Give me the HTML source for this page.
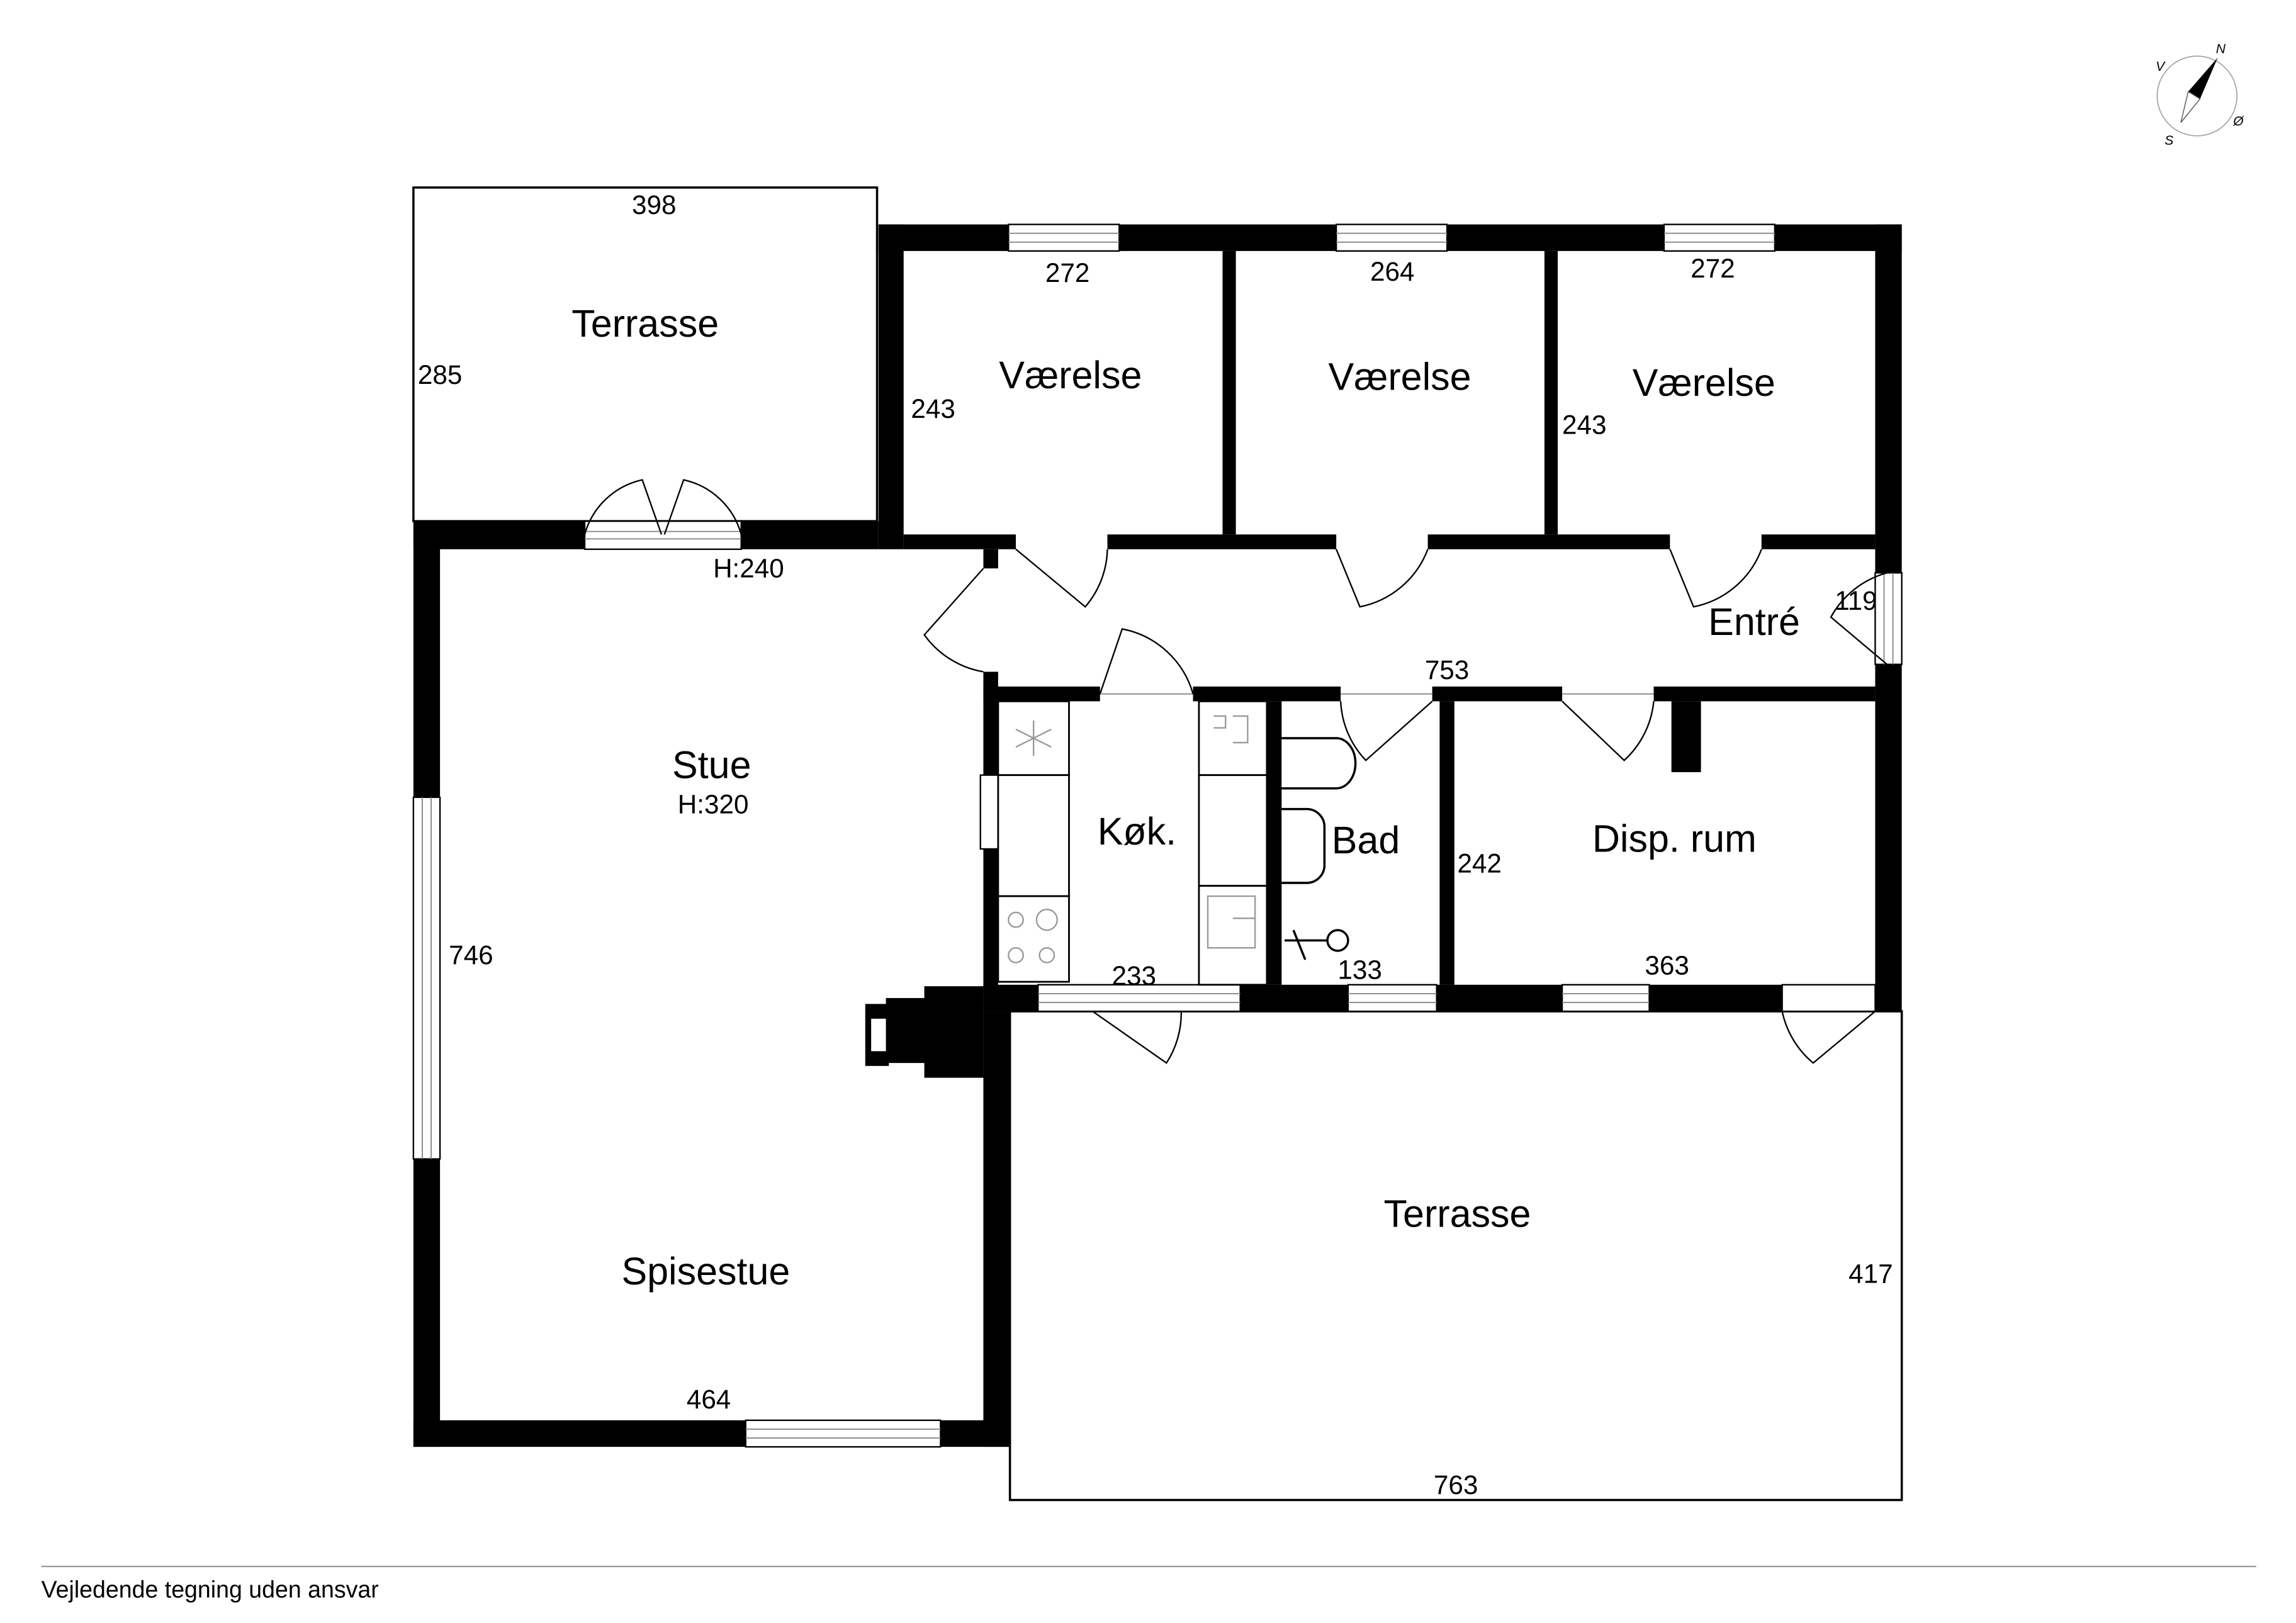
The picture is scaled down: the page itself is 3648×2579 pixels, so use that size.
<!DOCTYPE html>
<html><head><meta charset="utf-8"><style>
html,body{margin:0;padding:0;background:#fff;}
svg{display:block;}
text{font-family:"Liberation Sans",sans-serif;fill:#000;}
</style></head><body>
<svg width="3648" height="2579" viewBox="0 0 1555 1099.3" xmlns="http://www.w3.org/2000/svg">
<rect x="0" y="0" width="1555" height="1100" fill="#fff"/>
<!-- terraces -->
<rect x="280" y="127" width="314" height="226" fill="none" stroke="#000" stroke-width="1.5"/>
<rect x="684" y="685" width="604" height="331" fill="none" stroke="#000" stroke-width="1.5"/>
<g fill="#000">
<!-- top wall -->
<rect x="595" y="152" width="88" height="18"/><rect x="758" y="152" width="147" height="18"/>
<rect x="980" y="152" width="147" height="18"/><rect x="1202" y="152" width="86" height="18"/>
<rect x="595" y="152" width="17" height="220"/>
<rect x="1270" y="152" width="18" height="236"/><rect x="1270" y="450" width="18" height="235"/>
<rect x="828" y="170" width="9" height="192"/><rect x="1046" y="170" width="9" height="192"/>
<rect x="612" y="362" width="76" height="10"/><rect x="750" y="362" width="155" height="10"/>
<rect x="967" y="362" width="164" height="10"/><rect x="1193" y="362" width="77" height="10"/>
<!-- stue -->
<rect x="280" y="353" width="116" height="19"/><rect x="502" y="353" width="93" height="19"/>
<rect x="280" y="353" width="18" height="187"/><rect x="280" y="785" width="18" height="195"/>
<rect x="280" y="962" width="225" height="18"/><rect x="637" y="962" width="47" height="18"/>
<rect x="666" y="372" width="10" height="13"/><rect x="666" y="455" width="10" height="70"/>
<rect x="666" y="575" width="10" height="110"/>
<rect x="666" y="685" width="18" height="295"/>
<!-- hall bottom -->
<rect x="666" y="465" width="79" height="10"/><rect x="808" y="465" width="100" height="10"/>
<rect x="970" y="465" width="88" height="10"/><rect x="1120" y="465" width="150" height="10"/>
<rect x="1132" y="475" width="20" height="48"/>
<rect x="858" y="475" width="10" height="192"/><rect x="975" y="475" width="10" height="192"/>
<!-- bottom wall -->
<rect x="666" y="667" width="37" height="18"/><rect x="840" y="667" width="73" height="18"/>
<rect x="973" y="667" width="85" height="18"/><rect x="1117" y="667" width="90" height="18"/>
<!-- chimney -->
<rect x="626" y="668" width="40" height="62"/><rect x="600" y="676" width="30" height="44"/>
<rect x="586" y="680" width="16" height="42"/>
</g>
<rect x="590" y="690" width="10" height="22" fill="#fff"/>
<!-- windows -->
<g fill="#fff" stroke="#000" stroke-width="1">
<rect x="683" y="152" width="75" height="18"/><rect x="905" y="152" width="75" height="18"/><rect x="1127" y="152" width="75" height="18"/>
<rect x="396" y="353" width="106" height="19"/>
<rect x="280" y="540" width="18" height="245"/>
<rect x="505" y="962" width="132" height="18"/>
<rect x="703" y="667" width="137" height="18"/><rect x="913" y="667" width="60" height="18"/>
<rect x="1058" y="667" width="59" height="18"/><rect x="1207" y="667" width="63" height="18"/>
<rect x="1270" y="388" width="18" height="62"/>
<rect x="664" y="525" width="12" height="50"/>
</g>
<g stroke="#888" stroke-width="0.8">
<line x1="683" y1="158" x2="758" y2="158"/><line x1="683" y1="164" x2="758" y2="164"/>
<line x1="905" y1="158" x2="980" y2="158"/><line x1="905" y1="164" x2="980" y2="164"/>
<line x1="1127" y1="158" x2="1202" y2="158"/><line x1="1127" y1="164" x2="1202" y2="164"/>
<line x1="396" y1="360" x2="502" y2="360"/><line x1="396" y1="365" x2="502" y2="365"/>
<line x1="286" y1="540" x2="286" y2="785"/><line x1="292" y1="540" x2="292" y2="785"/>
<line x1="505" y1="968" x2="637" y2="968"/><line x1="505" y1="974" x2="637" y2="974"/>
<line x1="703" y1="673" x2="840" y2="673"/><line x1="703" y1="679" x2="840" y2="679"/>
<line x1="913" y1="673" x2="973" y2="673"/><line x1="913" y1="679" x2="973" y2="679"/>
<line x1="1058" y1="673" x2="1117" y2="673"/><line x1="1058" y1="679" x2="1117" y2="679"/>
<line x1="1276" y1="388" x2="1276" y2="450"/><line x1="1282" y1="388" x2="1282" y2="450"/>
<line x1="745" y1="470" x2="808" y2="470"/><line x1="908" y1="470" x2="970" y2="470"/><line x1="1058" y1="470" x2="1120" y2="470"/>
</g>
<!-- doors -->
<g fill="none" stroke="#000" stroke-width="1">
<path d="M688,372 L735,411 A62,62 0 0 0 750,372"/>
<path d="M905,372 L921,411 A62,62 0 0 0 967,372"/>
<path d="M1131,372 L1147,411 A62,62 0 0 0 1193,372"/>
<path d="M396,362 A52,52 0 0 1 435,325 L448,362"/>
<path d="M502,362 A52,52 0 0 0 463,325 L450,362"/>
<path d="M666,385 L626,430 A62,62 0 0 0 666,455"/>
<path d="M745,470 L760,426 A62,62 0 0 1 808,470"/>
<path d="M908,475 A62,62 0 0 0 925,515 L970,475"/>
<path d="M1058,475 L1100,515 A62,62 0 0 0 1120,475"/>
<path d="M740,685 L790,720 A62,62 0 0 0 800,685"/>
<path d="M1207,685 A62,62 0 0 0 1228,720 L1270,685"/>
<path d="M1278,388 A62,62 0 0 0 1240,418 L1278,450"/>
</g>
<!-- kitchen fixtures -->
<g fill="#fff" stroke="#000" stroke-width="1.2">
<rect x="676" y="475" width="48" height="50"/><rect x="676" y="525" width="48" height="82"/><rect x="676" y="607" width="48" height="58"/>
<rect x="812" y="475" width="46" height="50"/><rect x="812" y="525" width="46" height="75"/><rect x="812" y="600" width="46" height="67"/>
</g>
<g fill="none" stroke="#999" stroke-width="1">
<path d="M700,488 L700,512 M688,494 L712,506 M688,506 L712,494"/>
<circle cx="688" cy="623" r="5"/><circle cx="709" cy="623" r="7"/><circle cx="688" cy="647" r="5"/><circle cx="709" cy="647" r="5"/>
<rect x="818" y="607" width="32" height="35"/><line x1="835" y1="622" x2="850" y2="622"/>
<path d="M822,485 h8 v8 h-8 M835,485 h10 v18 h-10"/>
</g>
<!-- bath -->
<g fill="#fff" stroke="#000" stroke-width="1.5">
<path d="M868,500 L905,500 A13,17 0 0 1 905,534 L868,534"/>
<path d="M868,548 L885,548 A12,12 0 0 1 897,560 L897,586 A12,12 0 0 1 885,598 L868,598"/>
<circle cx="906" cy="637" r="7"/>
</g>
<path d="M870,637 H899 M876,630 L884,650" stroke="#000" stroke-width="1.5"/>
<!-- labels -->
<g font-size="26" text-anchor="middle">
<text x="437" y="228">Terrasse</text><text x="725" y="263">Værelse</text><text x="948" y="264">Værelse</text>
<text x="1154" y="268">Værelse</text><text x="482" y="527">Stue</text><text x="1188" y="430">Entré</text>
<text x="770" y="572">Køk.</text><text x="925" y="578">Bad</text><text x="1134" y="577">Disp. rum</text>
<text x="478" y="870">Spisestue</text><text x="987" y="831">Terrasse</text>
</g>
<g font-size="18" text-anchor="middle">
<text x="483" y="551">H:320</text>
<text x="443" y="145">398</text><text x="298" y="260">285</text><text x="723" y="191">272</text>
<text x="943" y="190">264</text><text x="1160" y="188">272</text><text x="632" y="283">243</text>
<text x="1073" y="294">243</text><text x="507" y="391">H:240</text><text x="1257" y="413">119</text>
<text x="980" y="460">753</text><text x="319" y="653">746</text><text x="768" y="667">233</text>
<text x="921" y="663">133</text><text x="1002" y="591">242</text><text x="1129" y="660">363</text>
<text x="1267" y="869">417</text><text x="480" y="954">464</text><text x="986" y="1012">763</text>
</g>
<!-- compass -->
<g transform="translate(1488,65)">
<circle r="27" fill="none" stroke="#aaa" stroke-width="0.8"/>
<polygon points="14,-26 -6,-3 2,2" fill="#000"/>
<polygon points="-6,-3 2,2 -11,18" fill="none" stroke="#555" stroke-width="0.6"/>
<g font-size="9" font-style="italic" text-anchor="middle"><text x="16" y="-29">N</text><text x="-25" y="-17">V</text><text x="28" y="20">Ø</text><text x="-19" y="33">S</text></g>
</g>
<line x1="28" y1="1061" x2="1528" y2="1061" stroke="#999" stroke-width="1"/>
<text x="28" y="1082" font-size="16">Vejledende tegning uden ansvar</text>
</svg>
</body></html>
